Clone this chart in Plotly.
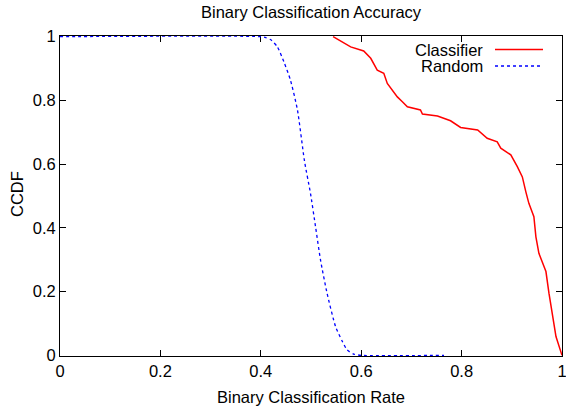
import plotly.graph_objects as go

# Classifier CCDF
classifier_x = [0.544, 0.556, 0.579, 0.605, 0.619, 0.632, 0.645, 0.652, 0.672, 0.682,
                0.692, 0.718, 0.722, 0.752, 0.778, 0.798, 0.832, 0.851, 0.871, 0.878,
                0.898, 0.911, 0.921, 0.928, 0.934, 0.944, 0.948, 0.954, 0.964, 0.968,
                0.974, 0.981, 0.988, 1.0]
classifier_y = [1.0, 0.989, 0.968, 0.955, 0.932, 0.895, 0.885, 0.853, 0.811, 0.796,
                0.780, 0.770, 0.757, 0.751, 0.736, 0.715, 0.707, 0.681, 0.670, 0.650,
                0.629, 0.592, 0.560, 0.513, 0.477, 0.435, 0.372, 0.320, 0.278, 0.263,
                0.195, 0.132, 0.059, 0.0]

# Random CCDF
random_x = [0.0, 0.40, 0.41, 0.42, 0.433, 0.446, 0.459, 0.473, 0.487, 0.499, 0.509,
            0.519, 0.532, 0.549, 0.562, 0.572, 0.585, 0.60, 0.765]
random_y = [1.0, 1.0, 0.997, 0.99, 0.968, 0.921, 0.864, 0.770, 0.61, 0.508, 0.404,
            0.299, 0.195, 0.090, 0.045, 0.017, 0.004, 0.0, 0.0]

tick_vals = [0, 0.2, 0.4, 0.6, 0.8, 1]
tick_text = ["0", "0.2", "0.4", "0.6", "0.8", "1"]

series_names = ["Classifier", "Random"]
series_colors = ["#ff0000", "#0000ff"]

W, H = 566, 409
L, R, T, B = 60, 4, 36, 53

fig = go.Figure()
fig.add_trace(go.Scatter(x=classifier_x, y=classifier_y, mode="lines",
                         line=dict(color=series_colors[0], width=1.5),
                         name=series_names[0], showlegend=False))
fig.add_trace(go.Scatter(x=random_x, y=random_y, mode="lines",
                         line=dict(color=series_colors[1], width=1.3, dash="dot", shape="spline", smoothing=0.6),
                         name=series_names[1], showlegend=False))

font = dict(family="Liberation Sans, Arial, sans-serif", size=16.5, color="black")
axis_common = dict(showline=True, linecolor="black", linewidth=1, mirror="ticks",
                   ticks="inside", ticklen=6, tickcolor="black", tickwidth=1,
                   showgrid=False, zeroline=False, layer="below traces",
                   tickvals=tick_vals, ticktext=tick_text, tickfont=font,
                   ticklabeloverflow="allow", automargin=False)

fig.update_layout(
    width=W, height=H, autosize=False,
    margin=dict(l=L, r=R, t=T, b=B, pad=0),
    paper_bgcolor="white", plot_bgcolor="white",
    font=font,
    xaxis=dict(range=[0, 1], **axis_common),
    yaxis=dict(range=[-0.002, 1.002], **axis_common),
)

pw = W - L - R
ph = H - T - B

def px_to_paper(px, py):
    return (px - L) / pw, (H - B - py) / ph

annotations = []
# Title
tx, ty = px_to_paper(311, 12)
annotations.append(dict(text="Binary Classification Accuracy", x=tx, y=ty, xref="paper", yref="paper",
                        showarrow=False, xanchor="center", yanchor="middle", font=font))
# X axis title
tx, ty = px_to_paper(311, 397)
annotations.append(dict(text="Binary Classification Rate", x=tx, y=ty, xref="paper", yref="paper",
                        showarrow=False, xanchor="center", yanchor="middle", font=font))
# Y axis title
tx, ty = px_to_paper(17, 194)
annotations.append(dict(text="CCDF", x=tx, y=ty, xref="paper", yref="paper", textangle=-90,
                        showarrow=False, xanchor="center", yanchor="middle", font=font))

# Legend (gnuplot style: text then sample)
legend_rows = [49.5, 66]
shapes = []
for name, color, row, dash in zip(series_names, series_colors, legend_rows, ["solid", "dot"]):
    tx, ty = px_to_paper(485, row)
    annotations.append(dict(text=name, x=tx, y=ty, xref="paper", yref="paper",
                            showarrow=False, xanchor="right", yanchor="middle", font=font))
    x0, y0 = px_to_paper(495, row)
    x1, _ = px_to_paper(543, row)
    shapes.append(dict(type="line", xref="paper", yref="paper", x0=x0, x1=x1, y0=y0, y1=y0,
                       line=dict(color=color, width=1.3 if dash == "dot" else 1.5, dash=dash)))

fig.update_layout(annotations=annotations, shapes=shapes)

fig.write_html("out.html", config={"displayModeBar": False},
               post_script="document.body.style.margin='0';document.body.style.overflow='hidden';")
